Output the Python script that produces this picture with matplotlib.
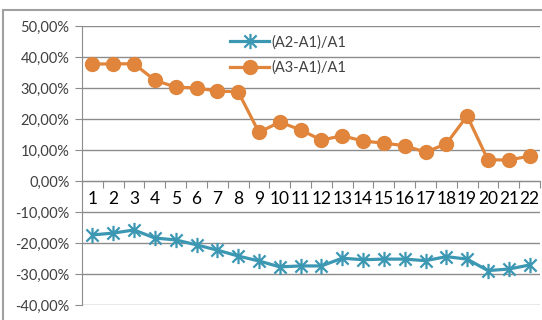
import matplotlib
matplotlib.use('Agg')
import matplotlib.pyplot as plt
from matplotlib.path import Path
from matplotlib.patches import Rectangle
from matplotlib.ticker import FuncFormatter, FixedLocator
import numpy as np

# данные
categories = [str(i) for i in range(1, 23)]
a2_a1 = [-17.4, -16.8, -15.8, -18.4, -19.0, -20.6, -22.3, -24.2, -25.8, -27.7, -27.4,
         -27.4, -24.9, -25.4, -25.2, -25.2, -25.7, -24.4, -25.2, -28.9, -28.4, -27.1]
a3_a1 = [37.7, 37.8, 37.8, 32.5, 30.3, 30.0, 29.0, 28.8, 15.7, 19.0, 16.5,
         13.2, 14.6, 12.9, 12.2, 11.4, 9.3, 12.0, 21.0, 6.8, 6.8, 8.0]
labels = ['(A2-A1)/A1', '(A3-A1)/A1']

BLUE = '#3c97b3'
ORANGE = '#e0853b'
GRID = '#8c8c8c'
TEXT = '#404040'

# звёздочка как в Excel: вертикальная черта + крестик
star = Path([(0, -1), (0, 1), (-0.8, -0.8), (0.8, 0.8), (-0.8, 0.8), (0.8, -0.8)],
            [Path.MOVETO, Path.LINETO, Path.MOVETO, Path.LINETO, Path.MOVETO, Path.LINETO])

plt.rcParams['font.family'] = ['Lato', 'DejaVu Sans']

fig = plt.figure(figsize=(5.42, 3.2), dpi=100)
ax = fig.add_axes([82 / 542, 15 / 320, 458 / 542, 279 / 320])

x = np.arange(len(categories))
ax.plot(x, a2_a1, color=BLUE, lw=2.3, marker=star, ms=11, mew=1.6, mec=BLUE,
        label=labels[0], zorder=3)
ax.plot(x, a3_a1, color=ORANGE, lw=2.3, marker='o', ms=10, mec=ORANGE,
        label=labels[1], zorder=3)

ax.set_xlim(-0.5, len(categories) - 0.5)
ax.set_ylim(-40, 50)
ax.set_yticks(np.arange(-40, 51, 10))
ax.yaxis.set_major_formatter(FuncFormatter(lambda v, p: ('%.2f%%' % v).replace('.', ',')))
ax.grid(axis='y', color=GRID, lw=1)
ax.set_axisbelow(True)

for s in ['top', 'right']:
    ax.spines[s].set_visible(False)
ax.spines['left'].set_color(GRID)
ax.spines['bottom'].set_position(('data', 0))
ax.spines['bottom'].set_color(GRID)

# метки категорий между делениями
ax.xaxis.set_major_locator(FixedLocator(np.arange(-0.5, len(categories), 1)))
ax.xaxis.set_major_formatter(FuncFormatter(lambda v, p: ''))
ax.xaxis.set_minor_locator(FixedLocator(x))
ax.set_xticklabels(categories, minor=True)
ax.tick_params(axis='x', which='major', length=5, color=GRID, direction='out')
ax.tick_params(axis='x', which='minor', length=0, labelsize=12.5, labelcolor='black', pad=7)
ax.tick_params(axis='y', length=5, color=GRID, labelsize=10.5, labelcolor=TEXT, pad=4)

ax.legend(loc='upper left', bbox_to_anchor=(230 / 542, 1 - 35 / 320),
          bbox_transform=fig.transFigure, frameon=False, fontsize=10.5,
          handlelength=2.7, handletextpad=0.15, labelspacing=0.75,
          borderpad=0, borderaxespad=0, labelcolor=TEXT)

# рамка области диаграммы
fig.patches.append(Rectangle((3 / 542, -0.1), 1.2, 1.1 - 10 / 320, transform=fig.transFigure,
                             fill=False, edgecolor='#a0a0a0', lw=1.5))

fig.savefig('out.png', dpi=100)
